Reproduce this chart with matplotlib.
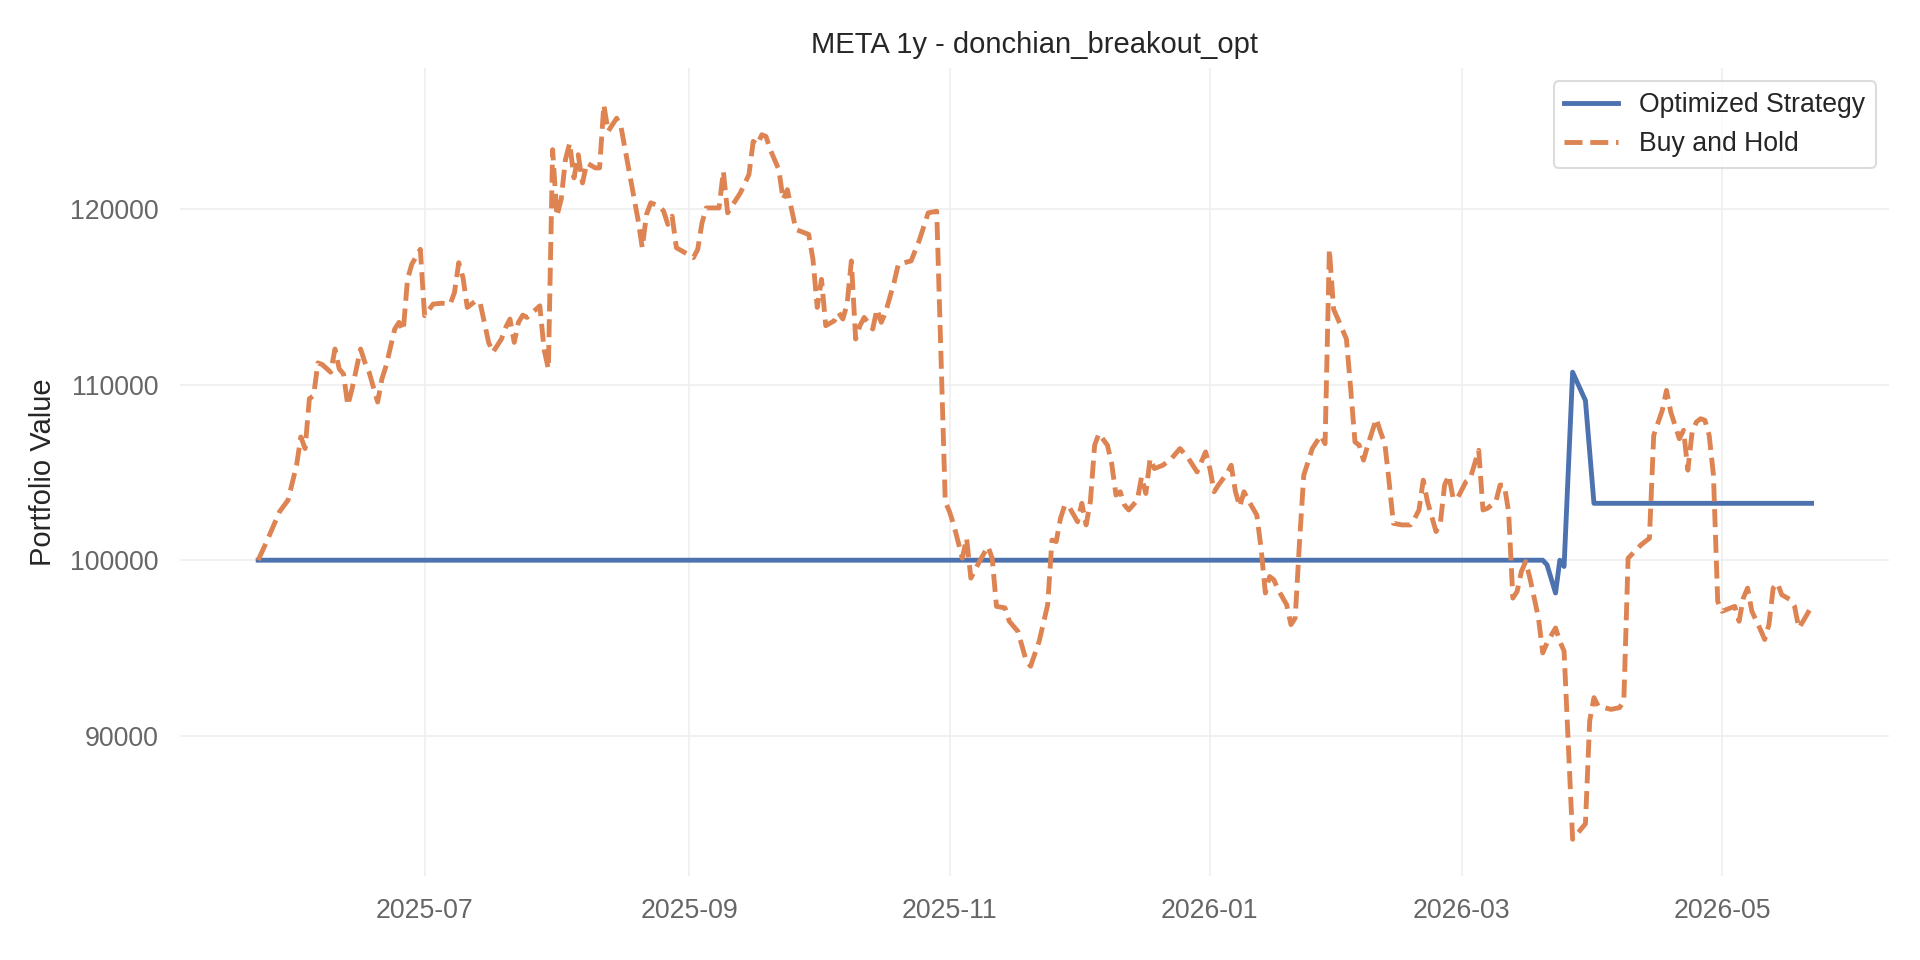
import pandas as pd
import matplotlib
matplotlib.use("Agg")
import matplotlib.pyplot as plt
import matplotlib.dates as mdates

plt.rcParams['font.family'] = ['Liberation Sans', 'DejaVu Sans']

# Buy and Hold portfolio value
bh_dates = [
    "2025-05-23", "2025-05-25", "2025-05-28", "2025-05-30", "2025-06-01", "2025-06-02",
    "2025-06-03", "2025-06-04", "2025-06-05", "2025-06-06", "2025-06-07", "2025-06-09",
    "2025-06-10", "2025-06-11", "2025-06-12", "2025-06-13", "2025-06-14", "2025-06-16",
    "2025-06-17", "2025-06-18", "2025-06-20", "2025-06-21", "2025-06-22", "2025-06-24",
    "2025-06-25", "2025-06-26", "2025-06-27", "2025-06-28", "2025-06-29", "2025-06-30",
    "2025-07-01", "2025-07-03", "2025-07-05", "2025-07-07", "2025-07-08", "2025-07-09",
    "2025-07-10", "2025-07-11", "2025-07-13", "2025-07-14", "2025-07-16", "2025-07-17",
    "2025-07-19", "2025-07-20", "2025-07-21", "2025-07-22", "2025-07-23", "2025-07-24",
    "2025-07-25", "2025-07-28", "2025-07-29", "2025-07-30", "2025-07-31", "2025-08-01",
    "2025-08-02", "2025-08-03", "2025-08-04", "2025-08-05", "2025-08-06", "2025-08-07",
    "2025-08-08", "2025-08-10", "2025-08-11", "2025-08-12", "2025-08-13", "2025-08-15",
    "2025-08-16", "2025-08-18", "2025-08-20", "2025-08-21", "2025-08-22", "2025-08-23",
    "2025-08-25", "2025-08-26", "2025-08-27", "2025-08-28", "2025-08-29", "2025-08-31",
    "2025-09-02", "2025-09-03", "2025-09-04", "2025-09-05", "2025-09-08", "2025-09-09",
    "2025-09-10", "2025-09-11", "2025-09-13", "2025-09-15", "2025-09-16", "2025-09-17",
    "2025-09-18", "2025-09-19", "2025-09-20", "2025-09-22", "2025-09-23", "2025-09-24",
    "2025-09-26", "2025-09-29", "2025-09-30", "2025-10-01", "2025-10-02", "2025-10-03",
    "2025-10-05", "2025-10-06", "2025-10-07", "2025-10-08", "2025-10-09", "2025-10-10",
    "2025-10-11", "2025-10-12", "2025-10-14", "2025-10-15", "2025-10-16", "2025-10-17",
    "2025-10-19", "2025-10-20", "2025-10-23", "2025-10-25", "2025-10-27", "2025-10-29",
    "2025-10-31", "2025-11-01", "2025-11-02", "2025-11-04", "2025-11-05", "2025-11-06",
    "2025-11-08", "2025-11-10", "2025-11-11", "2025-11-12", "2025-11-14", "2025-11-15",
    "2025-11-17", "2025-11-19", "2025-11-20", "2025-11-22", "2025-11-24", "2025-11-25",
    "2025-11-26", "2025-11-27", "2025-11-28", "2025-11-29", "2025-12-01", "2025-12-02",
    "2025-12-03", "2025-12-04", "2025-12-05", "2025-12-06", "2025-12-08", "2025-12-09",
    "2025-12-10", "2025-12-11", "2025-12-12", "2025-12-13", "2025-12-15", "2025-12-16",
    "2025-12-17", "2025-12-18", "2025-12-19", "2025-12-21", "2025-12-23", "2025-12-25",
    "2025-12-27", "2025-12-29", "2025-12-30", "2025-12-31", "2026-01-01", "2026-01-02",
    "2026-01-03", "2026-01-05", "2026-01-06", "2026-01-07", "2026-01-08", "2026-01-09",
    "2026-01-10", "2026-01-12", "2026-01-13", "2026-01-14", "2026-01-15", "2026-01-16",
    "2026-01-17", "2026-01-19", "2026-01-20", "2026-01-21", "2026-01-22", "2026-01-23",
    "2026-01-25", "2026-01-27", "2026-01-28", "2026-01-29", "2026-01-30", "2026-01-31",
    "2026-02-02", "2026-02-03", "2026-02-04", "2026-02-05", "2026-02-06", "2026-02-07",
    "2026-02-09", "2026-02-10", "2026-02-11", "2026-02-12", "2026-02-13", "2026-02-15",
    "2026-02-17", "2026-02-18", "2026-02-19", "2026-02-20", "2026-02-21", "2026-02-23",
    "2026-02-24", "2026-02-25", "2026-02-26", "2026-02-27", "2026-02-28", "2026-03-02",
    "2026-03-03", "2026-03-05", "2026-03-06", "2026-03-07", "2026-03-09", "2026-03-10",
    "2026-03-11", "2026-03-12", "2026-03-13", "2026-03-14", "2026-03-15", "2026-03-16",
    "2026-03-17", "2026-03-19", "2026-03-20", "2026-03-21", "2026-03-23", "2026-03-24",
    "2026-03-25", "2026-03-27", "2026-03-30", "2026-03-31", "2026-04-01", "2026-04-02",
    "2026-04-05", "2026-04-07", "2026-04-08", "2026-04-09", "2026-04-12", "2026-04-14",
    "2026-04-15", "2026-04-17", "2026-04-18", "2026-04-19", "2026-04-21", "2026-04-22",
    "2026-04-23", "2026-04-24", "2026-04-25", "2026-04-26", "2026-04-27", "2026-04-28",
    "2026-04-29", "2026-04-30", "2026-05-01", "2026-05-04", "2026-05-05", "2026-05-06",
    "2026-05-07", "2026-05-08", "2026-05-10", "2026-05-11", "2026-05-12", "2026-05-13",
    "2026-05-14", "2026-05-15", "2026-05-17", "2026-05-18", "2026-05-19", "2026-05-20",
    "2026-05-22",
]
bh_values = [
    100000, 101060, 102760, 103420, 105410, 107020,
    106360, 109200, 109380, 111240, 111150, 110710,
    112030, 110900, 110610, 108820, 109760, 112030,
    111280, 110710, 109010, 110330, 111090, 113170,
    113550, 113070, 116010, 116860, 117290, 117710,
    113930, 114590, 114640, 114590, 115250, 116950,
    116100, 114400, 114780, 114680, 112410, 111840,
    112600, 113260, 113740, 112410, 113550, 113960,
    113830, 114490, 112000, 110900, 123390, 119600,
    120550, 122820, 123760, 121780, 123100, 121490,
    122630, 122350, 122350, 125940, 124430, 125180,
    124710, 122060, 119410, 117800, 119700, 120360,
    120170, 119890, 119130, 119600, 117800, 117520,
    117240, 117710, 119220, 120070, 120070, 122160,
    119790, 120170, 120930, 121970, 123860, 123670,
    124240, 124140, 123390, 122250, 120550, 121110,
    118840, 118560, 117140, 114400, 116000, 113360,
    113640, 114110, 113740, 114590, 117050, 112600,
    113360, 113830, 113170, 114300, 113550, 114110,
    115820, 116860, 117050, 118280, 119790, 119880,
    103330, 102760, 102010, 100110, 101250, 98980,
    99920, 100780, 100110, 97370, 97280, 96520,
    95950, 94250, 93960, 95380, 97460, 101150,
    101060, 102380, 103140, 103050, 102190, 103240,
    102010, 103330, 106550, 107210, 106550, 105500,
    103710, 103900, 103140, 102860, 103420, 104750,
    103800, 105790, 105220, 105410, 105790, 106360,
    105790, 105030, 105600, 106170, 105220, 103900,
    104280, 104940, 105410, 103900, 103050, 103900,
    103420, 102570, 100680, 98130, 99070, 98880,
    98320, 97460, 96330, 96710, 101000, 104840,
    106360, 107110, 106640, 117710, 114300, 113740,
    112600, 109760, 106740, 106550, 105700, 106550,
    108060, 107300, 106640, 104470, 102100, 102010,
    102010, 102380, 102860, 104560, 103330, 101630,
    102100, 104280, 104840, 103520, 103520, 104470,
    104650, 106260, 102860, 102950, 103330, 104280,
    104280, 102760, 97840, 98220, 99360, 99920,
    98980, 96710, 94720, 95290, 96140, 95380,
    94820, 84100, 84980, 90840, 92170, 91690,
    91500, 91600, 91980, 100110, 100870, 101250,
    107110, 108530, 109670, 108440, 106920, 107400,
    105130, 107300, 107870, 108060, 107970, 107110,
    104840, 97650, 97090, 97370, 96520, 97840,
    98410, 97090, 96050, 95480, 96330, 98410,
    98690, 98030, 97750, 97370, 96140, 96520,
    97370,
]

# Optimized strategy portfolio value
strat_dates = [
    "2025-05-23", "2026-03-20", "2026-03-21", "2026-03-23", "2026-03-24",
    "2026-03-25", "2026-03-27", "2026-03-30", "2026-04-01", "2026-05-22",
]
strat_values = [
    100000, 100000, 99740, 98130, 100000,
    99640, 110710, 109100, 103240, 103240,
]

title = "META 1y - donchian_breakout_opt"
ylabel = "Portfolio Value"

fig, ax = plt.subplots(figsize=(19.2, 9.6), dpi=100)
fig.subplots_adjust(left=0.094, right=0.984, top=0.929, bottom=0.0875)

ax.plot(pd.to_datetime(strat_dates), strat_values, color="#4C72B0",
        linewidth=3.5, label="Optimized Strategy")
ax.plot(pd.to_datetime(bh_dates), bh_values, color="#DD8452",
        linewidth=3.5, linestyle="--", label="Buy and Hold")

ax.set_title(title, fontsize=21, color="#262626", pad=11)
ax.set_ylabel(ylabel, fontsize=21, color="#262626", labelpad=9)

ax.xaxis.set_major_locator(mdates.MonthLocator(bymonth=[1, 3, 5, 7, 9, 11]))
ax.xaxis.set_major_formatter(mdates.DateFormatter("%Y-%m"))
ax.tick_params(axis="both", length=0, pad=16, labelsize=19.2, labelcolor="#666666")

ax.grid(True, color="#efefef", linewidth=1.2)
ax.set_axisbelow(True)
for sp in ax.spines.values():
    sp.set_visible(False)

leg = ax.legend(loc="upper right", fontsize=19.2, frameon=True, fancybox=True)
leg.get_frame().set_edgecolor("#d4d4d4")
leg.get_frame().set_linewidth(1.5)
for t in leg.get_texts():
    t.set_color("#262626")

fig.savefig("out.png", dpi=100, facecolor="white")
